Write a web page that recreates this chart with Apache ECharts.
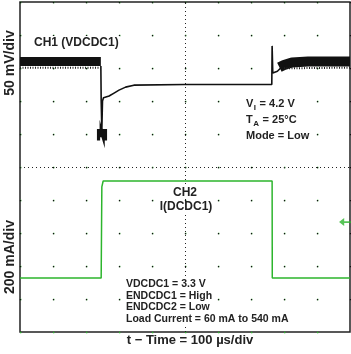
<!DOCTYPE html>
<html><head><meta charset="utf-8">
<script src="https://cdn.jsdelivr.net/npm/echarts@6/dist/echarts.min.js"></script>
<style>html,body{margin:0;padding:0;background:#fff}#c{width:351px;height:354px}</style>
</head><body><div id="c"></div><script>
// Time in microseconds (100 us/div), amplitude in screen divisions
// CH1: 50 mV/div (VDCDC1), CH2: 200 mA/div (I(DCDC1))
const ch1BandBeforeTime = [0, 245];
const ch1BandBeforeDiv = [8.2, 8.2];
const ch1BandAfterTime = [786, 800, 824, 873, 1000];
const ch1BandAfterDiv = [8.02, 8.09, 8.17, 8.2, 8.2];
const ch1RippleBeforeTime = [0, 245];
const ch1RippleBeforeDiv = [8.01, 8.01];
const ch1RippleAfterTime = [800, 1000];
const ch1RippleAfterDiv = [7.99, 8.01];
const ch1TraceTime = [245, 246, 248, 250, 253, 258, 270, 285, 300, 320, 345, 500, 763, 764, 766, 780, 790];
const ch1TraceDiv  = [8.06, 7.0, 6.12, 7.0, 7.1, 7.12, 7.15, 7.24, 7.33, 7.42, 7.48, 7.5, 7.5, 8.67, 7.85, 7.9, 8.0];
const ch1SpikeTime = [238, 238, 246, 246, 246, 252, 252, 252, 259, 259];
const ch1SpikeDiv  = [5.8, 6.1, 6.1, 5.9, 6.1, 6.1, 5.9, 6.1, 6.1, 5.8];
const ch2Time = [0, 246, 248, 252, 764, 764.5, 1000];
const ch2Div  = [1.64, 1.64, 4.4, 4.576, 4.576, 1.64, 1.64];
const ch2MarkerTime = [985];
const ch2MarkerDiv = [3.33];
const xTitle = 't \u2212 Time = 100 \u00b5s/div';
const yTitleTop = '50 mV/div';
const yTitleBottom = '200 mA/div';
const ch1Label = 'CH1 (VDCDC1)';
const ch2Label = ['CH2', 'I(DCDC1)'];
const condTop = [['V', 'I', ' = 4.2 V'], ['T', 'A', ' = 25\u00b0C'], ['Mode = Low', '', '']];
const condBottom = ['VDCDC1 = 3.3 V', 'ENDCDC1 = High', 'ENDCDC2 = Low', 'Load Current = 60 mA to 540 mA'];

const zip = (a, b) => a.map((v, i) => [v, b[i]]);
const FF = '"Liberation Sans", Arial, sans-serif';
const GREEN = '#2db52d';

const chart = echarts.init(document.getElementById('c'), null, {renderer: 'canvas'});
const graphics = [];
const txt = (x, y, text, size, extra) => Object.assign({
  type: 'text', x, y, z: 100,
  style: Object.assign({text, font: 'bold ' + size + 'px ' + FF, fill: '#222',
    align: 'left', verticalAlign: 'middle', textAlign: 'left', textVerticalAlign: 'middle'}, (extra && extra.style) || {})
}, extra && extra.rotation ? {rotation: extra.rotation} : {});

graphics.push(txt(10, 63, yTitleTop, 14, {rotation: Math.PI / 2, style: {align: 'center', textAlign: 'center'}}));
graphics.push(txt(10, 257, yTitleBottom, 14, {rotation: Math.PI / 2, style: {align: 'center', textAlign: 'center'}}));
graphics.push(txt(190, 340, xTitle, 13, {style: {align: 'center', textAlign: 'center'}}));
graphics.push(txt(33, 43, ch1Label, 12, {style: {backgroundColor: '#fff', padding: [1, 1]}}));
graphics.push(txt(185, 193, ch2Label[0], 12, {style: {align: 'center', textAlign: 'center', backgroundColor: '#fff'}}));
graphics.push(txt(186, 207, ch2Label[1], 12, {style: {align: 'center', textAlign: 'center', backgroundColor: '#fff'}}));

// white panel behind the condition block, then the text with subscripts
graphics.push({type: 'rect', z: 99, shape: {x: 243, y: 95, width: 70, height: 48}, style: {fill: '#fff'}});
const measure = (s, font) => echarts.format.getTextRect ? echarts.format.getTextRect(s, font).width : s.length * 6;
condTop.forEach((c, i) => {
  const x0 = 246, y0 = 104 + i * 16;
  const fMain = 'bold 11px ' + FF, fSub = 'bold 8px ' + FF;
  graphics.push(txt(x0, y0, c[0], 11, {}));
  let x = x0 + measure(c[0], fMain);
  if (c[1]) {
    x += 0.5;
    graphics.push(txt(x, y0 + 4, c[1], 8, {}));
    x += measure(c[1], fSub) + 0.5;
  }
  if (c[2]) graphics.push(txt(x, y0, c[2], 11, {}));
});
condBottom.forEach((t, i) => graphics.push(txt(126, 284 + i * 11.7, t, 10.5, {style: {backgroundColor: '#fff'}})));

const option = {
  animation: false,
  backgroundColor: '#fff',
  grid: {left: 20, top: 2, width: 330, height: 330, show: true, borderColor: '#222', borderWidth: 1.5, backgroundColor: 'transparent'},
  xAxis: {type: 'value', min: 0, max: 1000, interval: 100,
    axisLabel: {show: false}, axisTick: {show: false}, axisLine: {show: false},
    splitLine: {show: true, lineStyle: {color: '#111', width: 1.3, type: [1.3, 31.7]}}},
  yAxis: {type: 'value', min: 0, max: 10, interval: 1,
    axisLabel: {show: false}, axisTick: {show: false}, axisLine: {show: false},
    splitLine: {show: true, lineStyle: {color: GREEN, width: 1.3, type: [1.3, 31.7]}}},
  series: [
    {type: 'line', data: [], silent: true, markLine: {silent: true, symbol: 'none', label: {show: false},
      lineStyle: {color: '#222', width: 1, type: [1, 3]}, data: [{xAxis: 500}, {yAxis: 5}]}},
    {type: 'line', data: zip(ch2Time, ch2Div), showSymbol: false, lineStyle: {color: GREEN, width: 1.5}, z: 5},
    {type: 'scatter', data: zip(ch2MarkerTime, ch2MarkerDiv), symbol: 'path://M0,5 L6,0 L6,4 L14,4 L14,6 L6,6 L6,10 Z', symbolSize: [12, 8], itemStyle: {color: GREEN}, z: 6},
    {type: 'line', data: zip(ch1TraceTime, ch1TraceDiv), showSymbol: false, lineStyle: {color: '#111', width: 1.6}, z: 7},
    {type: 'line', data: zip(ch1SpikeTime, ch1SpikeDiv), showSymbol: false, lineStyle: {color: '#111', width: 3.2, join: 'miter'}, z: 7},
    {type: 'line', data: zip(ch1BandBeforeTime, ch1BandBeforeDiv), showSymbol: false, lineStyle: {color: '#111', width: 9, cap: 'butt'}, z: 8},
    {type: 'line', data: zip(ch1BandAfterTime, ch1BandAfterDiv), showSymbol: false, lineStyle: {color: '#111', width: 10, cap: 'butt'}, z: 8},
    {type: 'line', data: zip(ch1RippleBeforeTime, ch1RippleBeforeDiv), showSymbol: false, lineStyle: {color: '#222', width: 2, type: [1, 1.5]}, z: 8},
    {type: 'line', data: zip(ch1RippleAfterTime, ch1RippleAfterDiv), showSymbol: false, lineStyle: {color: '#222', width: 2, type: [1, 1.5]}, z: 8}
  ],
  graphic: graphics
};
chart.setOption(option);
</script></body></html>
